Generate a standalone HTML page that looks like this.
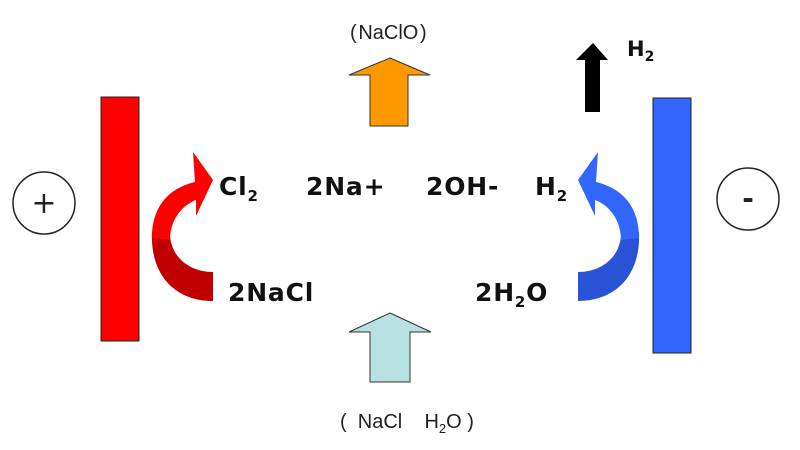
<!DOCTYPE html>
<html><head><meta charset="utf-8"><style>
html,body{margin:0;padding:0;background:#fff;}
svg{display:block;}
text{font-family:"DejaVu Sans","Liberation Sans",sans-serif;}
.b{font-weight:bold;font-size:25px;letter-spacing:0.8px;fill:#111;}
.n{font-family:"Liberation Sans",sans-serif;font-size:20px;fill:#222;}
</style></head><body>
<svg width="800" height="450" viewBox="0 0 800 450" xmlns="http://www.w3.org/2000/svg">
<rect x="0" y="0" width="800" height="450" fill="#fff"/>
<circle cx="44" cy="203" r="31" fill="#fff" stroke="#222" stroke-width="1.5"/>
<text x="44" y="213" text-anchor="middle" style="font-size:30px;fill:#222">+</text>
<circle cx="748" cy="199" r="31" fill="#fff" stroke="#222" stroke-width="1.5"/>
<text x="748" y="208" text-anchor="middle" style="font-size:28px;font-weight:bold;fill:#222">-</text>
<rect x="101" y="97" width="38" height="244" fill="#ff0000" stroke="#222" stroke-width="1"/>
<rect x="653" y="98" width="38" height="255" fill="#3366ff" stroke="#222" stroke-width="1"/>
<g>
<path d="M213,301 C175,301 150,275 152,232 L170,236 C172,258 190,272 213,272 Z" fill="#c00000"/>
<path d="M152,238 C152,205 170,188 195,182 L193,152 L213,180 L196,216 L196,200 C182,205 170,220 170,240 Z" fill="#ff0000"/>
</g>
<g transform="translate(791,0) scale(-1,1)">
<path d="M213,301 C175,301 150,275 152,232 L170,236 C172,258 190,272 213,272 Z" fill="#2a52d6"/>
<path d="M152,238 C152,205 170,188 195,182 L193,152 L213,180 L196,216 L196,200 C182,205 170,220 170,240 Z" fill="#3366ff"/>
</g>
<path d="M390,58 L430,75 L408,75 L408,126 L370,126 L370,75 L349,75 Z" fill="#ff9900" stroke="#333" stroke-width="1"/>
<path d="M390,313 L431,332 L410,332 L410,382 L370,382 L370,332 L349,332 Z" fill="#b7e0e0" stroke="#333" stroke-width="1"/>
<path d="M593,43 L608,60 L600,60 L600,112 L585,112 L585,60 L576,60 Z" fill="#000"/>
<text x="350" y="39" class="n">(&#8202;NaClO&#8202;)</text>
<text x="627" y="56" class="b" style="font-size:21px;letter-spacing:0">H<tspan dy="5" style="font-size:14px">2</tspan></text>
<text x="219" y="195" class="b">Cl<tspan dy="6" style="font-size:15px">2</tspan></text>
<text x="306" y="195" class="b">2Na+</text>
<text x="426" y="195" class="b">2OH-</text>
<text x="535" y="195" class="b">H<tspan dy="6" style="font-size:15px">2</tspan></text>
<text x="228" y="301" class="b">2NaCl</text>
<text x="475" y="301" class="b">2H<tspan dy="6" style="font-size:15px">2</tspan><tspan dy="-6">O</tspan></text>
<text x="340" y="428" class="n">(&#160;&#160;NaCl&#160;&#160;&#160;&#160;H<tspan dy="5" style="font-size:13px">2</tspan><tspan dy="-5">O&#160;)</tspan></text>
</svg>
</body></html>
